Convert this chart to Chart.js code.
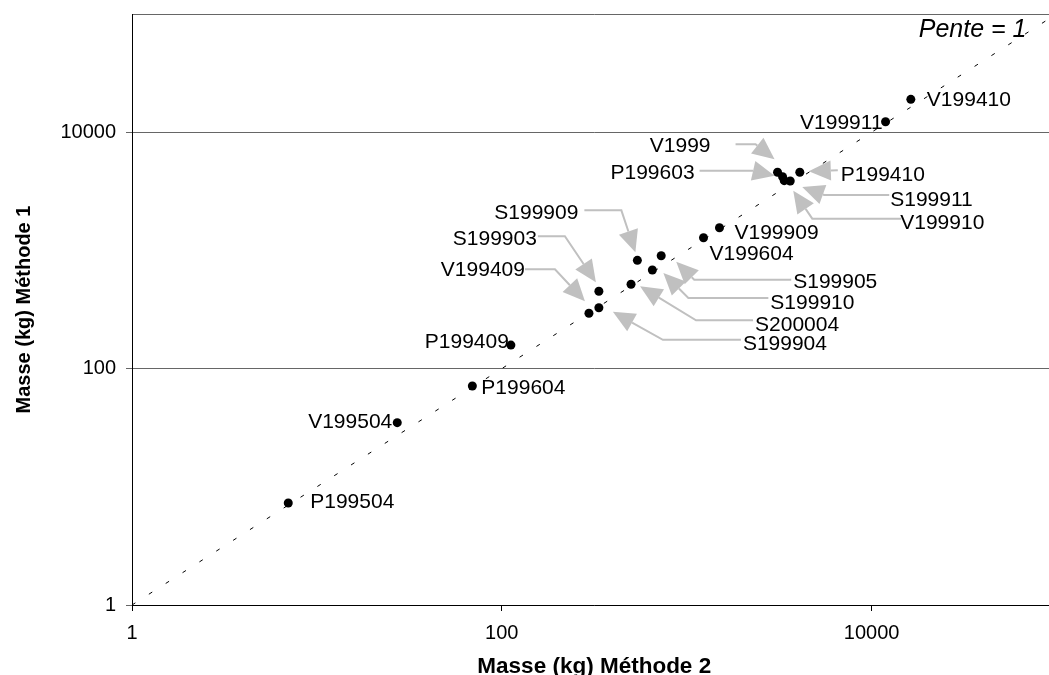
<!DOCTYPE html>
<html lang="fr">
<head>
<meta charset="utf-8">
<title>Masse méthode 1 vs méthode 2</title>
<script src="https://cdn.jsdelivr.net/npm/chart.js@4.4.1/dist/chart.umd.min.js"></script>
<style>
    html, body { margin: 0; padding: 0; background: #fff; overflow: hidden; }
    #cadre { position: relative; width: 1061px; height: 675px; }
</style>
</head>
<body>
<div id="cadre"><canvas id="graficoMasses"></canvas></div>
<script>
// Données (kg)
const echantillons = [
    "P199504", "V199504", "P199604", "P199409", "V199409", "S199904", "S199903",
    "S200004", "S199909", "S199910", "S199905", "V199604", "V199909", "V1999",
    "P199603", "V199910", "S199911", "P199410", "V199911", "V199410"
];
const masseMethode2 = [
    7.0, 27.2, 69.3, 112, 296, 335, 335,
    500, 541, 652, 728, 1233, 1504, 3100,
    3300, 3370, 3630, 4090, 11900, 16300
];
const masseMethode1 = [
    7.3, 34.9, 71.3, 158, 294, 327, 451,
    517, 824, 683, 902, 1280, 1556, 4580,
    4200, 3890, 3865, 4580, 12270, 18970
];
const ticksLog = [1, 100, 10000];
const droitePente1 = [1, 100000];

// placement des étiquettes (décalages en px par rapport au point) et flèches
const etiquettes = {
    P199504: { dx: 22, dy: -1, align: "left" },
    V199504: { dx: -5, dy: 0, align: "right" },
    P199604: { dx: 9, dy: 2, align: "left" },
    P199409: { dx: -2, dy: -3, align: "right" },
    V199409: { dx: -64, dy: -43, align: "right", fleche: [[-64, -44], [-34, -44], [-4, -12]] },
    S199904: { dx: 144, dy: 36, align: "left", fleche: [[142, 32], [64, 32], [14, 4]] },
    S199903: { dx: -62, dy: -52, align: "right", fleche: [[-61, -55], [-34, -55], [-3, -9]] },
    S200004: { dx: 124, dy: 41, align: "left", fleche: [[122, 36], [65, 36], [9, 2]] },
    S199909: { dx: -59, dy: -47, align: "right", fleche: [[-53, -50], [-16, -50], [-2, -8]] },
    S199910: { dx: 118, dy: 33, align: "left", fleche: [[116, 28], [36, 28], [11, 3]] },
    S199905: { dx: 132, dy: 27, align: "left", fleche: [[130, 24], [33, 24], [15, 6]] },
    V199604: { dx: 6, dy: 16, align: "left" },
    V199909: { dx: 15, dy: 5, align: "left" },
    V1999: { dx: -67, dy: -26, align: "right", fleche: [[-42, -28], [-22, -28], [-3, -13]] },
    P199603: { dx: -88, dy: -4, align: "right", fleche: [[-83, -6], [-30, -6], [-8, -1]] },
    V199910: { dx: 116, dy: 43, align: "left", fleche: [[117, 38], [28, 38], [9, 10]] },
    S199911: { dx: 100, dy: 19, align: "left", fleche: [[99, 14], [34, 14], [12, 6]] },
    P199410: { dx: 41, dy: 3, align: "left", fleche: [[38, -2], [9, -1]] },
    V199911: { dx: -3, dy: 2, align: "right" },
    V199410: { dx: 16, dy: 1, align: "left" }
};

const police = "'Liberation Sans', Arial, sans-serif";

const pluginEtiquettes = {
    id: "etiquettes",
    beforeDatasetsDraw(chart) {
        const ctx = chart.ctx;
        const meta = chart.getDatasetMeta(0);
        ctx.save();
        ctx.strokeStyle = "#c0c0c0";
        ctx.fillStyle = "#c0c0c0";
        ctx.lineWidth = 2;
        meta.data.forEach((pt, i) => {
            const e = etiquettes[echantillons[i]];
            if (!e || !e.fleche) return;
            const pts = e.fleche.map(d => [pt.x + d[0], pt.y + d[1]]);
            const bout = pts[pts.length - 1];
            const avant = pts[pts.length - 2];
            const ang = Math.atan2(bout[1] - avant[1], bout[0] - avant[0]);
            const L = 22, W = 10;
            const bx = bout[0] - L * Math.cos(ang);
            const by = bout[1] - L * Math.sin(ang);
            ctx.beginPath();
            ctx.moveTo(pts[0][0], pts[0][1]);
            for (let k = 1; k < pts.length - 1; k++) ctx.lineTo(pts[k][0], pts[k][1]);
            ctx.lineTo(bx, by);
            ctx.stroke();
            ctx.beginPath();
            ctx.moveTo(bout[0], bout[1]);
            ctx.lineTo(bx + W * Math.sin(ang), by - W * Math.cos(ang));
            ctx.lineTo(bx - W * Math.sin(ang), by + W * Math.cos(ang));
            ctx.closePath();
            ctx.fill();
        });
        ctx.restore();
    },
    afterDatasetsDraw(chart) {
        const ctx = chart.ctx;
        const meta = chart.getDatasetMeta(0);
        ctx.save();
        ctx.fillStyle = "#000";
        ctx.font = "21px " + police;
        ctx.textBaseline = "middle";
        meta.data.forEach((pt, i) => {
            const e = etiquettes[echantillons[i]];
            if (!e) return;
            ctx.textAlign = e.align;
            ctx.fillText(echantillons[i], pt.x + e.dx, pt.y + e.dy);
        });
        ctx.font = "italic 25px " + police;
        ctx.textAlign = "right";
        ctx.fillText("Pente = 1", chart.chartArea.right - 30, chart.chartArea.top + 16);
        ctx.restore();
    }
};

const ctx = document.getElementById("graficoMasses").getContext("2d");
new Chart(ctx, {
    type: "scatter",
    data: {
        datasets: [{
            label: "Masses",
            data: echantillons.map((n, i) => ({ x: masseMethode2[i], y: masseMethode1[i] })),
            backgroundColor: "#000",
            borderWidth: 0,
            pointRadius: 4.5,
            pointHoverRadius: 4.5
        }, {
            type: "line",
            label: "Pente = 1",
            data: droitePente1.map(v => ({ x: v, y: v })),
            borderColor: "#000",
            borderWidth: 1,
            borderDash: [4, 16],
            pointRadius: 0,
            fill: false
        }]
    },
    options: {
        responsive: true,
        maintainAspectRatio: false,
        animation: false,
        layout: { padding: { top: 14, right: 1, bottom: 0, left: 0 } },
        plugins: {
            legend: { display: false },
            tooltip: { enabled: false }
        },
        scales: {
            x: {
                type: "logarithmic",
                min: 1,
                max: 100000,
                afterBuildTicks: s => { s.ticks = ticksLog.map(v => ({ value: v })); },
                afterFit: s => { s.height = 70; s.paddingLeft = 0; s.paddingRight = 0; },
                grid: { drawOnChartArea: false, drawTicks: true, tickLength: 6, color: "#000" },
                border: { display: true, color: "#000", width: 1 },
                ticks: {
                    color: "#000",
                    padding: 10,
                    maxRotation: 0,
                    font: { family: police, size: 20 },
                    callback: v => String(v)
                },
                title: {
                    display: true,
                    text: "Masse (kg) Méthode 2",
                    color: "#000",
                    font: { family: police, size: 22.5, weight: "bold", lineHeight: 1 },
                    padding: { top: 0, bottom: -3 }
                }
            },
            y: {
                type: "logarithmic",
                min: 1,
                max: 100000,
                afterBuildTicks: s => { s.ticks = ticksLog.concat([100000]).map(v => ({ value: v })); },
                afterFit: s => { s.width = 132; s.paddingTop = 0; s.paddingBottom = 0; },
                grid: {
                    color: "#666",
                    lineWidth: 1,
                    drawTicks: true,
                    tickLength: 6,
                    tickColor: c => (c.tick && c.tick.value === 100000 ? "rgba(0,0,0,0)" : "#666")
                },
                border: { display: true, color: "#000", width: 1 },
                ticks: {
                    color: "#000",
                    padding: 10,
                    font: { family: police, size: 20 },
                    callback: v => (v === 100000 ? "" : String(v))
                },
                title: {
                    display: true,
                    text: "Masse (kg) Méthode 1",
                    color: "#000",
                    font: { family: police, size: 20, weight: "bold", lineHeight: 1.2 },
                    padding: { top: 12, bottom: 0 }
                }
            }
        }
    },
    plugins: [pluginEtiquettes]
});
</script>
</body>
</html>
